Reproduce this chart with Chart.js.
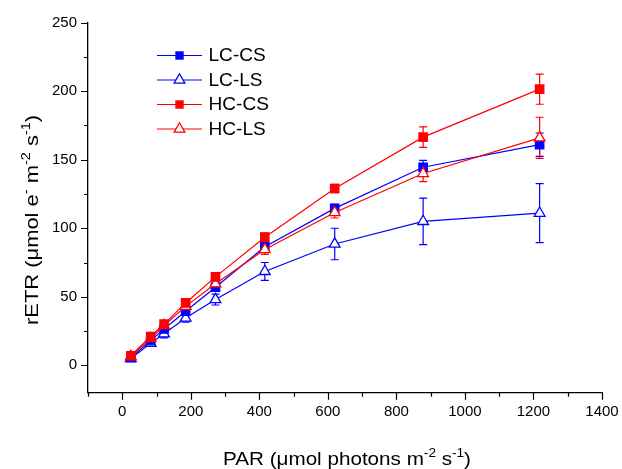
<!DOCTYPE html>
<html>
<head>
<meta charset="utf-8">
<script src="https://cdn.jsdelivr.net/npm/chart.js@4/dist/chart.umd.min.js"></script>
<style>
html, body { margin: 0; padding: 0; background: #fff; }
#wrap { width: 622px; height: 469px; }
</style>
</head>
<body>
<div id="wrap"><canvas id="etrChart" width="622" height="469"></canvas></div>
<script>
// PAR levels (x) and rETR means / standard errors
var par = [25, 83, 122, 185, 272, 416, 620, 878, 1218];
var lcCs = [5.5, 18, 26.5, 39.5, 57, 86.5, 114.5, 144.5, 161];
var lcCsErr = [1, 1.5, 2, 2, 2.5, 3, 3, 5, 8.5];
var lcLs = [5, 16, 23, 34.5, 48, 68.5, 88.5, 105, 111];
var lcLsErr = [1.5, 2, 3, 3, 4, 6.5, 11.5, 17, 21.5];
var hcCs = [7, 21, 30, 45.5, 64.5, 93.5, 129, 166.5, 201.5];
var hcCsErr = [1, 1.5, 2, 2, 2.5, 3, 3, 7.5, 11];
var hcLs = [6.5, 19.5, 29, 43, 59.5, 84.5, 111.5, 140, 166];
var hcLsErr = [1, 1.5, 2, 2.5, 3, 3.5, 4, 6, 15];

var seriesNames = ['LC-CS', 'LC-LS', 'HC-CS', 'HC-LS'];
var xTickLabels = [0, 200, 400, 600, 800, 1000, 1200, 1400];
var yTickLabels = [0, 50, 100, 150, 200, 250];

var FONT = "Arial, 'Liberation Sans', sans-serif";

function pts(ys) {
    return par.map(function (x, i) { return { x: x, y: ys[i] }; });
}

function makeSet(name, ys, errs, color, style, order) {
    return {
        label: name,
        data: pts(ys),
        errors: errs,
        borderColor: color,
        borderWidth: 1.2,
        pointStyle: style,
        pointRadius: style === 'rect' ? 5.9 : 6.2,
        pointBorderWidth: 1.3,
        pointBorderColor: color,
        pointBackgroundColor: style === 'rect' ? color : '#fff',
        showLine: true,
        fill: false,
        order: order
    };
}

// error bars, drawn under the markers
var errorBars = {
    id: 'errorBars',
    beforeDatasetsDraw: function (chart) {
        var ctx = chart.ctx, yScale = chart.scales.y;
        chart.data.datasets.forEach(function (ds, di) {
            var meta = chart.getDatasetMeta(di);
            ctx.save();
            ctx.strokeStyle = ds.borderColor;
            ctx.lineWidth = 1.2;
            meta.data.forEach(function (pt, i) {
                var v = ds.data[i].y, e = ds.errors[i];
                var yTop = yScale.getPixelForValue(v + e);
                var yBot = yScale.getPixelForValue(v - e);
                ctx.beginPath();
                ctx.moveTo(pt.x, yTop); ctx.lineTo(pt.x, yBot);
                ctx.moveTo(pt.x - 4, yTop); ctx.lineTo(pt.x + 4, yTop);
                ctx.moveTo(pt.x - 4, yBot); ctx.lineTo(pt.x + 4, yBot);
                ctx.stroke();
            });
            ctx.restore();
        });
    }
};

// outward tick marks, long on labelled values, short in between
var tickMarks = {
    id: 'tickMarks',
    afterDraw: function (chart) {
        var ctx = chart.ctx, xs = chart.scales.x, ys = chart.scales.y;
        var area = chart.chartArea;
        ctx.save();
        ctx.strokeStyle = '#000';
        ctx.lineWidth = 1.2;
        ctx.beginPath();
        xs.ticks.forEach(function (t) {
            var px = Math.round(xs.getPixelForValue(t.value)) + 0.5;
            var len = t.value % 200 === 0 ? 7 : 4;
            ctx.moveTo(px, area.bottom); ctx.lineTo(px, area.bottom + len);
        });
        ys.ticks.forEach(function (t) {
            var py = Math.round(ys.getPixelForValue(t.value)) + 0.5;
            var len = t.value % 50 === 0 ? 7 : 4;
            ctx.moveTo(area.left, py); ctx.lineTo(area.left - len, py);
        });
        ctx.stroke();
        ctx.restore();
    }
};

// text with superscript pieces: parts = [[text, isSup], ...]
var SUP = 0.66;
function richWidth(ctx, parts, size) {
    var w = 0;
    parts.forEach(function (p) {
        ctx.font = (p[1] ? size * SUP : size) + 'px ' + FONT;
        w += ctx.measureText(p[0]).width;
    });
    return w;
}
function drawRich(ctx, parts, x, y, size) {
    parts.forEach(function (p) {
        ctx.font = (p[1] ? size * SUP : size) + 'px ' + FONT;
        ctx.fillText(p[0], x, p[1] ? y - size * 0.42 : y);
        x += ctx.measureText(p[0]).width;
    });
}

var axisTitles = {
    id: 'axisTitles',
    afterDraw: function (chart) {
        var ctx = chart.ctx, area = chart.chartArea;
        ctx.save();
        ctx.fillStyle = '#000';
        ctx.textBaseline = 'alphabetic';
        ctx.textAlign = 'left';
        var size = 19;

        // x title, widened a little like the original lettering
        var xParts = [['PAR (\u03bcmol photons m', false], ['-2', true], [' s', false], ['-1', true], [')', false]];
        var w = richWidth(ctx, xParts, size);
        var sx = 248 / w;
        ctx.save();
        ctx.translate(347, 465);
        ctx.scale(sx, 1);
        drawRich(ctx, xParts, -w / 2, 0, size);
        ctx.restore();

        var yParts = [['rETR (\u03bcmol e', false], ['-', true], [' m', false], ['-2', true], [' s', false], ['-1', true], [')', false]];
        w = richWidth(ctx, yParts, size);
        var sy = 210 / w;
        ctx.save();
        ctx.translate(37.5, 220);
        ctx.rotate(-Math.PI / 2);
        ctx.scale(sy, 1);
        drawRich(ctx, yParts, -w / 2, 0, size);
        ctx.restore();
        ctx.restore();
    }
};

// legend in the upper left: line with marker, then the name
var lineLegend = {
    id: 'lineLegend',
    afterDraw: function (chart) {
        var ctx = chart.ctx;
        var rows = [55.5, 80, 104.5, 129];
        ctx.save();
        chart.data.datasets.forEach(function (ds, i) {
            var y = rows[i];
            ctx.strokeStyle = ds.borderColor;
            ctx.lineWidth = 1.2;
            ctx.beginPath();
            ctx.moveTo(157, y); ctx.lineTo(202, y);
            ctx.stroke();
            ctx.lineWidth = 1.3;
            if (ds.pointStyle === 'rect') {
                ctx.fillStyle = ds.borderColor;
                ctx.fillRect(179.5 - 4.2, y - 4.2, 8.4, 8.4);
            } else {
                var r = 6.2;
                ctx.fillStyle = '#fff';
                ctx.beginPath();
                ctx.moveTo(179.5, y - r);
                ctx.lineTo(179.5 + r * 0.866, y + r / 2);
                ctx.lineTo(179.5 - r * 0.866, y + r / 2);
                ctx.closePath();
                ctx.fill();
                ctx.stroke();
            }
            ctx.fillStyle = '#000';
            ctx.font = '18px ' + FONT;
            ctx.textAlign = 'left';
            ctx.textBaseline = 'middle';
            ctx.save();
            ctx.translate(208.5, y + 1);
            ctx.scale(1.06, 1);
            ctx.fillText(seriesNames[i], 0, 0);
            ctx.restore();
        });
        ctx.restore();
    }
};

var ctx = document.getElementById('etrChart').getContext('2d');
var etrChart = new Chart(ctx, {
    type: 'scatter',
    data: {
        datasets: [
            makeSet(seriesNames[0], lcCs, lcCsErr, '#0000ff', 'rect', 2),
            makeSet(seriesNames[1], lcLs, lcLsErr, '#0000ff', 'triangle', 3),
            makeSet(seriesNames[2], hcCs, hcCsErr, '#ff0000', 'rect', 0),
            makeSet(seriesNames[3], hcLs, hcLsErr, '#ff0000', 'triangle', 1)
        ]
    },
    options: {
        responsive: false,
        animation: false,
        events: [],
        layout: { padding: { top: 22.7, right: 20, bottom: 0, left: 0 } },
        plugins: {
            legend: { display: false },
            tooltip: { enabled: false }
        },
        scales: {
            x: {
                type: 'linear',
                min: -100,
                max: 1400,
                grid: { display: false, drawTicks: false },
                border: { display: true, color: '#000', width: 1.3 },
                ticks: {
                    stepSize: 100,
                    autoSkip: false,
                    maxRotation: 0,
                    padding: 10,
                    color: '#000',
                    font: { family: FONT, size: 15 },
                    callback: function (v) { return xTickLabels.indexOf(v) >= 0 ? String(v) : ''; }
                },
                afterFit: function (s) {
                    s.height = 469 - 392.7;
                    s.paddingLeft = 0;
                    s.paddingRight = 0;
                }
            },
            y: {
                type: 'linear',
                min: -20,
                max: 250,
                grid: { display: false, drawTicks: false },
                border: { display: true, color: '#000', width: 1.3 },
                ticks: {
                    stepSize: 25,
                    autoSkip: false,
                    padding: 11,
                    color: '#000',
                    font: { family: FONT, size: 15 },
                    callback: function (v) { return yTickLabels.indexOf(v) >= 0 ? String(v) : ''; }
                },
                afterBuildTicks: function (s) {
                    s.ticks = s.ticks.filter(function (t) { return t.value % 25 === 0; });
                },
                afterFit: function (s) {
                    s.width = 88;
                    s.paddingTop = 0;
                    s.paddingBottom = 0;
                }
            }
        }
    },
    plugins: [errorBars, tickMarks, axisTitles, lineLegend]
});
</script>
</body>
</html>
